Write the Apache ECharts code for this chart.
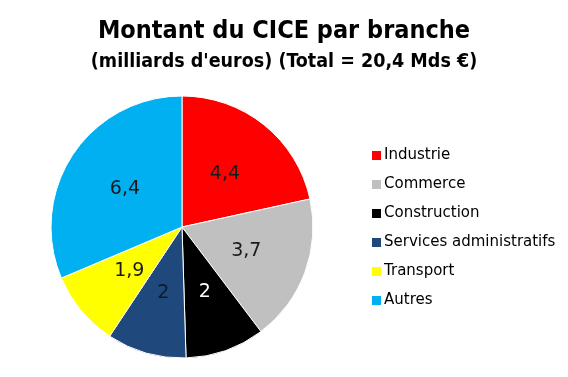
<!DOCTYPE html>
<html>
<head>
<meta charset="utf-8">
<script src="https://cdn.jsdelivr.net/npm/echarts@6/dist/echarts.min.js"></script>
<style>
  html, body { margin: 0; padding: 0; background: #fff; }
  #main { width: 568px; height: 377px; }
</style>
</head>
<body>
<div id="main"></div>
<script>
// branches and amounts (milliards d'euros)
const branches = ['Industrie', 'Commerce', 'Construction', 'Services administratifs', 'Transport', 'Autres'];
const montants = [4.4, 3.7, 2, 2, 1.9, 6.4];
const couleurs = ['#ff0000', '#c0c0c0', '#000000', '#1f497d', '#ffff00', '#00b0f0'];
const labelColors = ['#1a1a1a', '#1a1a1a', '#ffffff', '#0d1a2b', '#1a1a1a', '#1a1a1a'];

const font = 'Tahoma, "DejaVu Sans", sans-serif';
const titleFont = '"DejaVu Sans Condensed", "DejaVu Sans", sans-serif';

const chart = echarts.init(document.getElementById('main'));

const option = {
    backgroundColor: '#fff',
    animation: false,
    title: {
        text: 'Montant du CICE par branche',
        subtext: "(milliards d'euros) (Total = 20,4 Mds €)",
        left: 'center',
        top: 14,
        itemGap: 8,
        textStyle: { fontFamily: titleFont, fontSize: 25, fontWeight: 'bold', color: '#000' },
        subtextStyle: { fontFamily: titleFont, fontSize: 19.5, fontWeight: 'bold', color: '#000' }
    },
    legend: {
        orient: 'vertical',
        left: 365,
        top: 143,
        icon: 'rect',
        itemWidth: 11,
        itemHeight: 11,
        itemGap: 14,
        textStyle: { fontFamily: font, fontSize: 15, color: '#000', padding: [0, 0, 0, -3] },
        data: branches
    },
    series: [{
        type: 'pie',
        center: [182, 227],
        radius: 131,
        startAngle: 90,
        clockwise: true,
        label: {
            position: 'inside',
            fontFamily: font,
            fontSize: 19,
            formatter: p => String(p.value).replace('.', ',')
        },
        labelLine: { show: false },
        itemStyle: { borderColor: '#fff', borderWidth: 1 },
        emphasis: { disabled: true },
        data: branches.map((name, i) => ({
            name: name,
            value: montants[i],
            itemStyle: { color: couleurs[i] },
            label: { color: labelColors[i] }
        }))
    }]
};

chart.setOption(option);
</script>
</body>
</html>
